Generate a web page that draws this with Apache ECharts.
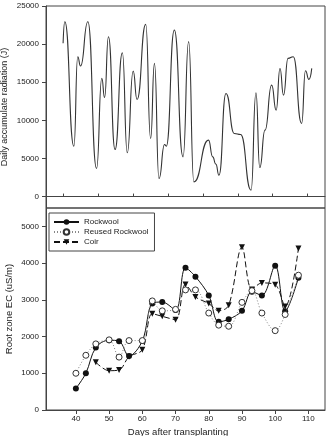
<!DOCTYPE html>
<html>
<head>
<meta charset="utf-8">
<script src="https://cdn.jsdelivr.net/npm/echarts@6/dist/echarts.min.js"></script>
<style>
  html, body { margin: 0; padding: 0; background: #fff; }
  #main { width: 329px; height: 436px; }
</style>
</head>
<body>
<div id="main"></div>
<script type="text/javascript">
  // top panel: daily accumulated radiation
  var radDay = [39.9, 40.4, 43.0, 44.1, 44.9, 47.0, 49.5, 51.0, 51.8, 52.9,
                54.8, 56.9, 58.3, 60.0, 61.1, 63.6, 65.0, 66.1, 67.4, 69.0,
                69.5, 71.8, 74.3, 75.9, 77.4, 81.6, 82.8, 83.7, 84.6, 86.6,
                89.0, 90.8, 93.8, 95.2, 96.3, 97.8, 99.7, 101.0, 102.1, 103.1,
                104.4, 105.9, 108.3, 109.4, 110.4, 111.2];
  var radJ = [20100, 22940, 6610, 18350, 17120, 22940, 3680, 15500, 13000, 20970,
              6170, 18870, 5740, 16460, 12740, 22590, 7620, 17470, 2360, 6830,
              6610, 21850, 5210, 20320, 1930, 7400, 5210, 4250, 2800, 13530,
              8270, 8140, 830, 13620, 3810, 8710, 14620, 11340, 16810, 13310,
              18130, 18350, 9590, 16510, 15370, 16810];

  // bottom panel: root zone EC
  var ecDays = [40, 43, 46, 50, 53, 56, 60, 63, 66, 70, 73, 76, 80, 83, 86, 90, 93, 96, 100, 103, 107];
  var rockwool = [586, 1000, 1700, 1900, 1875, 1470, 1880, 2900, 2940, 2720, 3870, 3630, 3120, 2400, 2470, 2700, 3220, 3120, 3930, 2690, 3600];
  var reused = [1000, 1490, 1800, 1910, 1440, 1890, 1890, 2970, 2700, 2740, 3270, 3270, 2640, 2310, 2280, 2930, 3250, 2640, 2160, 2600, 3670];
  var coir = [null, null, 1300, 1070, 1090, 1450, 1640, 2620, 2550, 2460, 3420, 3080, 2900, 2700, 2850, 4430, 3280, 3460, 3410, 2820, 4400];

  var dayTicks = [40, 50, 60, 70, 80, 90, 100, 110];
  var radTicks = [0, 5000, 10000, 15000, 20000, 25000];
  var ecTicks = [0, 1000, 2000, 3000, 4000, 5000];

  function pairs(xs, ys) {
    var out = [];
    for (var i = 0; i < xs.length; i++) {
      out.push([xs[i], ys[i]]);
    }
    return out;
  }
  function plain(v) { return String(v); }

  var font = 'Liberation Sans, Arial, sans-serif';
  var axisCol = '#444';
  var lineAxis = { lineStyle: { color: axisCol, width: 1 } };

  var myChart = echarts.init(document.getElementById('main'), null, { renderer: 'canvas' });
  var option = {
    animation: false,
    backgroundColor: '#fff',
    textStyle: { fontFamily: font, color: '#222' },
    grid: [
      { left: 46, top: 6, width: 279, height: 202, show: true, borderColor: axisCol, borderWidth: 1,
        containLabel: false, outerBoundsMode: 'none' },
      { left: 46, top: 208, width: 279, height: 202, show: true, borderColor: axisCol, borderWidth: 1,
        containLabel: false, outerBoundsMode: 'none' }
    ],
    legend: {
      orient: 'vertical',
      left: 49,
      top: 213,
      data: ['Rockwool', 'Reused Rockwool', 'Coir'],
      borderColor: axisCol,
      borderWidth: 1,
      borderRadius: 0,
      padding: [5, 6, 5, 4],
      itemWidth: 25,
      itemHeight: 7,
      itemGap: 2,
      textStyle: { fontSize: 8, lineHeight: 8, color: '#222', fontFamily: font }
    },
    xAxis: [
      {
        gridIndex: 0, type: 'value', min: 35, max: 115,
        axisLine: lineAxis,
        axisTick: { inside: true, length: 3, lineStyle: { color: axisCol }, customValues: dayTicks },
        axisLabel: { show: false },
        splitLine: { show: false }
      },
      {
        gridIndex: 1, type: 'value', min: 31, max: 115,
        name: 'Days after transplanting',
        nameLocation: 'middle',
        nameGap: 17,
        nameMoveOverlap: false,
        nameTextStyle: { fontSize: 9.5, color: '#222', padding: [0, 15, 0, 0] },
        axisLine: lineAxis,
        axisTick: { length: 4, lineStyle: { color: axisCol }, customValues: dayTicks },
        axisLabel: { fontSize: 8, margin: 5, color: '#222', customValues: dayTicks, formatter: plain },
        splitLine: { show: false }
      }
    ],
    yAxis: [
      {
        gridIndex: 0, type: 'value', min: -1500, max: 25000,
        name: 'Daily accumulate radiation (J)',
        nameLocation: 'middle',
        nameGap: 37,
        nameMoveOverlap: false,
        nameTextStyle: { fontSize: 9, color: '#222' },
        axisLine: lineAxis,
        axisTick: { length: 4, lineStyle: { color: axisCol }, customValues: radTicks },
        axisLabel: { fontSize: 8, margin: 7, color: '#222', customValues: radTicks, formatter: plain },
        splitLine: { show: false }
      },
      {
        gridIndex: 1, type: 'value', min: 0, max: 5500,
        name: 'Root zone EC (uS/m)',
        nameLocation: 'middle',
        nameGap: 32,
        nameMoveOverlap: false,
        nameTextStyle: { fontSize: 9.5, color: '#222' },
        axisLine: lineAxis,
        axisTick: { length: 4, lineStyle: { color: axisCol }, customValues: ecTicks },
        axisLabel: { fontSize: 8, margin: 7, color: '#222', customValues: ecTicks, formatter: plain },
        splitLine: { show: false }
      }
    ],
    series: [
      {
        name: 'Radiation',
        type: 'line',
        xAxisIndex: 0, yAxisIndex: 0,
        data: pairs(radDay, radJ),
        smooth: 0.55,
        smoothMonotone: 'x',
        showSymbol: false,
        lineStyle: { color: '#333', width: 1.1 },
        z: 2
      },
      {
        name: 'Coir',
        type: 'line',
        xAxisIndex: 1, yAxisIndex: 1,
        data: pairs(ecDays, coir),
        connectNulls: false,
        smooth: 0.35,
        symbol: 'triangle',
        symbolRotate: 180,
        symbolSize: 6,
        itemStyle: { color: '#111' },
        lineStyle: { color: '#111', width: 1, type: [6, 3] },
        z: 3
      },
      {
        name: 'Rockwool',
        type: 'line',
        xAxisIndex: 1, yAxisIndex: 1,
        data: pairs(ecDays, rockwool),
        smooth: 0.35,
        symbol: 'circle',
        symbolSize: 6,
        itemStyle: { color: '#111' },
        lineStyle: { color: '#111', width: 1 },
        z: 4
      },
      {
        name: 'Reused Rockwool',
        type: 'line',
        xAxisIndex: 1, yAxisIndex: 1,
        data: pairs(ecDays, reused),
        smooth: 0.35,
        symbol: 'circle',
        symbolSize: 6,
        itemStyle: { color: '#fff', borderColor: '#333', borderWidth: 1 },
        lineStyle: { color: '#888', width: 1, type: [1, 2] },
        z: 5
      }
    ]
  };
  myChart.setOption(option);
</script>
</body>
</html>
